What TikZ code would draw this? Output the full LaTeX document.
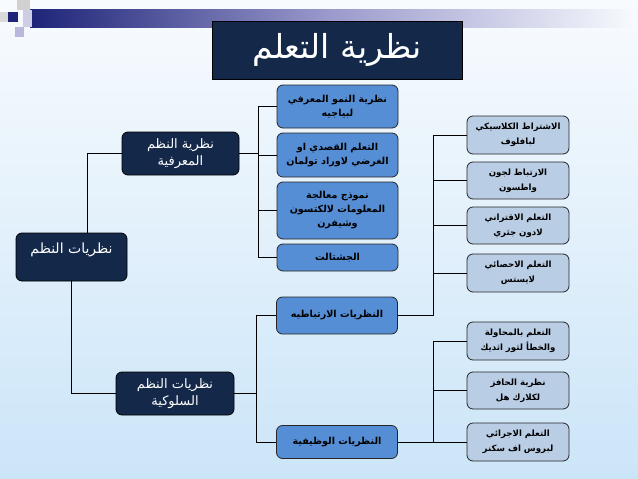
\documentclass[tikz,border=0pt]{standalone}
\usepackage{fontspec}
\newfontfamily\arabicfont[Script=Arabic]{DejaVu Sans}
\TeXXeTstate=1
\newcommand\AR[1]{\beginR #1\endR}
\definecolor{navy}{HTML}{14294A}
\definecolor{midblue}{HTML}{558ED5}
\definecolor{lightbox}{HTML}{B9CDE5}
\definecolor{bgtop}{HTML}{F8FBFE}
\definecolor{bgbot}{HTML}{CBE5F8}
\definecolor{bardark}{HTML}{1E2478}
\definecolor{barmid}{HTML}{9A9ACC}
\tikzset{
  darkbox/.style={draw=black, line width=0.8pt, fill=navy, rounded corners=6pt, text=white,
    align=center, inner sep=0pt, font=\arabicfont\fontsize{13}{17}\selectfont},
  midbox/.style={draw=black!85, line width=0.8pt, fill=midblue, rounded corners=6pt, text=black,
    align=center, inner sep=0pt, minimum width=121pt, font=\arabicfont\bfseries\fontsize{9.6}{14}\selectfont},
  rightbox/.style={draw=black!85, line width=0.8pt, fill=lightbox, rounded corners=6pt, text=black,
    align=center, inner sep=0pt, minimum width=102pt, font=\arabicfont\bfseries\fontsize{8.6}{15}\selectfont},
  conn/.style={draw=black, line width=0.8pt}
}
\begin{document}
\begin{tikzpicture}[x=1pt,y=-1pt]
\useasboundingbox (0,0) rectangle (638,479);
\shade[top color=bgtop, bottom color=bgbot] (0,0) rectangle (638,479);
% top decoration
\shade[left color=bardark, right color=barmid] (30,9) rectangle (330,27);
\shade[left color=barmid, right color=bgtop] (330,9) rectangle (638,27);
\fill[black!15] (0,12) rectangle (8,22);
\fill[bardark] (8,12) rectangle (18,22);
\fill[black!18] (17,0) rectangle (30,10);
\fill[barmid!50] (23,10) rectangle (32,27);
\fill[barmid!70] (15,27) rectangle (24,37);
% title
\node[draw=black, line width=0.8pt, fill=navy, minimum width=250pt, minimum height=58pt, inner sep=0pt,
  text=white, font=\arabicfont\fontsize{33}{36}\selectfont] (title) at (337,50) {\AR{نظرية التعلم}};
% left column
\node[darkbox, minimum width=111pt, minimum height=48pt, font=\arabicfont\fontsize{14}{18}\selectfont] (root) at (71.5,257) {\AR{نظريات النظم}\\\mbox{}};
\node[darkbox, minimum width=117pt, minimum height=43pt] (cog) at (180.5,153.5) {\AR{نظرية النظم}\\\AR{المعرفية}};
\node[darkbox, minimum width=118pt, minimum height=43pt] (beh) at (175,393.5) {\AR{نظريات النظم}\\\AR{السلوكية}};
% middle column
\node[midbox, minimum height=43pt] (A) at (337.5,106.5) {\AR{نظرية النمو المعرفي}\\\AR{لبياجيه}};
\node[midbox, minimum height=44pt] (B) at (337.5,155) {\AR{التعلم القصدي او}\\\AR{الغرضي لاوراد تولمان}};
\node[midbox, minimum height=57pt] (C) at (337.5,210.5) {\AR{نموذج معالجة}\\\AR{المعلومات لالكتسون}\\\AR{وشيفرن}};
\node[midbox, minimum height=27pt] (D) at (337.5,257.5) {\AR{الجشتالت}};
\node[midbox, minimum height=37pt] (E) at (337,315.5) {\AR{النظريات الارتباطيه}};
\node[midbox, minimum height=33pt] (F) at (337,442) {\AR{النظريات الوظيفية}};
% right column
\node[rightbox, minimum height=38pt] (R1) at (518,135) {\AR{الاشتراط الكلاسيكي}\\\AR{لبافلوف}};
\node[rightbox, minimum height=37pt] (R2) at (518,180.5) {\AR{الارتباط لجون}\\\AR{واطسون}};
\node[rightbox, minimum height=37pt] (R3) at (518,225.5) {\AR{التعلم الاقتراني}\\\AR{لادون جثري}};
\node[rightbox, minimum height=38pt] (R4) at (518,273) {\AR{التعلم الاحصائي}\\\AR{لايستس}};
\node[rightbox, minimum height=38pt] (R5) at (518,341) {\AR{التعلم بالمحاولة}\\\AR{والخطأ لثور اثديك}};
\node[rightbox, minimum height=37pt] (R6) at (518,390.5) {\AR{نظرية الحافز}\\\AR{لكلارك هل}};
\node[rightbox, minimum height=38pt] (R7) at (518,442) {\AR{التعلم الاجرائي}\\\AR{لبروس اف سكنر}};
% spines
\coordinate (s1) at (258,0);
\coordinate (s2) at (256,0);
\coordinate (s3) at (433,0);
% connectors
\draw[conn] ([xshift=15.5pt]root.north) |- (cog.west);
\draw[conn] (root.south) |- (beh.west);
\draw[conn] (cog.east) -- (cog.east -| s1);
\draw[conn] (A.west) -| (s1 |- D.west) -- (D.west);
\draw[conn] (B.west) -- (B.west -| s1);
\draw[conn] (C.west) -- (C.west -| s1);
\draw[conn] (beh.east) -- (beh.east -| s2);
\draw[conn] (E.west) -| (s2 |- F.west) -- (F.west);
\draw[conn] (E.east) -| (s3 |- R1.west) -- (R1.west);
\draw[conn] (R2.west) -- (R2.west -| s3);
\draw[conn] (R3.west) -- (R3.west -| s3);
\draw[conn] (R4.west) -- (R4.west -| s3);
\draw[conn] (F.east) -| (s3 |- R5.west) -- (R5.west);
\draw[conn] (R6.west) -- (R6.west -| s3);
\draw[conn] (R7.west) -- (R7.west -| s3);
\end{tikzpicture}
\end{document}
